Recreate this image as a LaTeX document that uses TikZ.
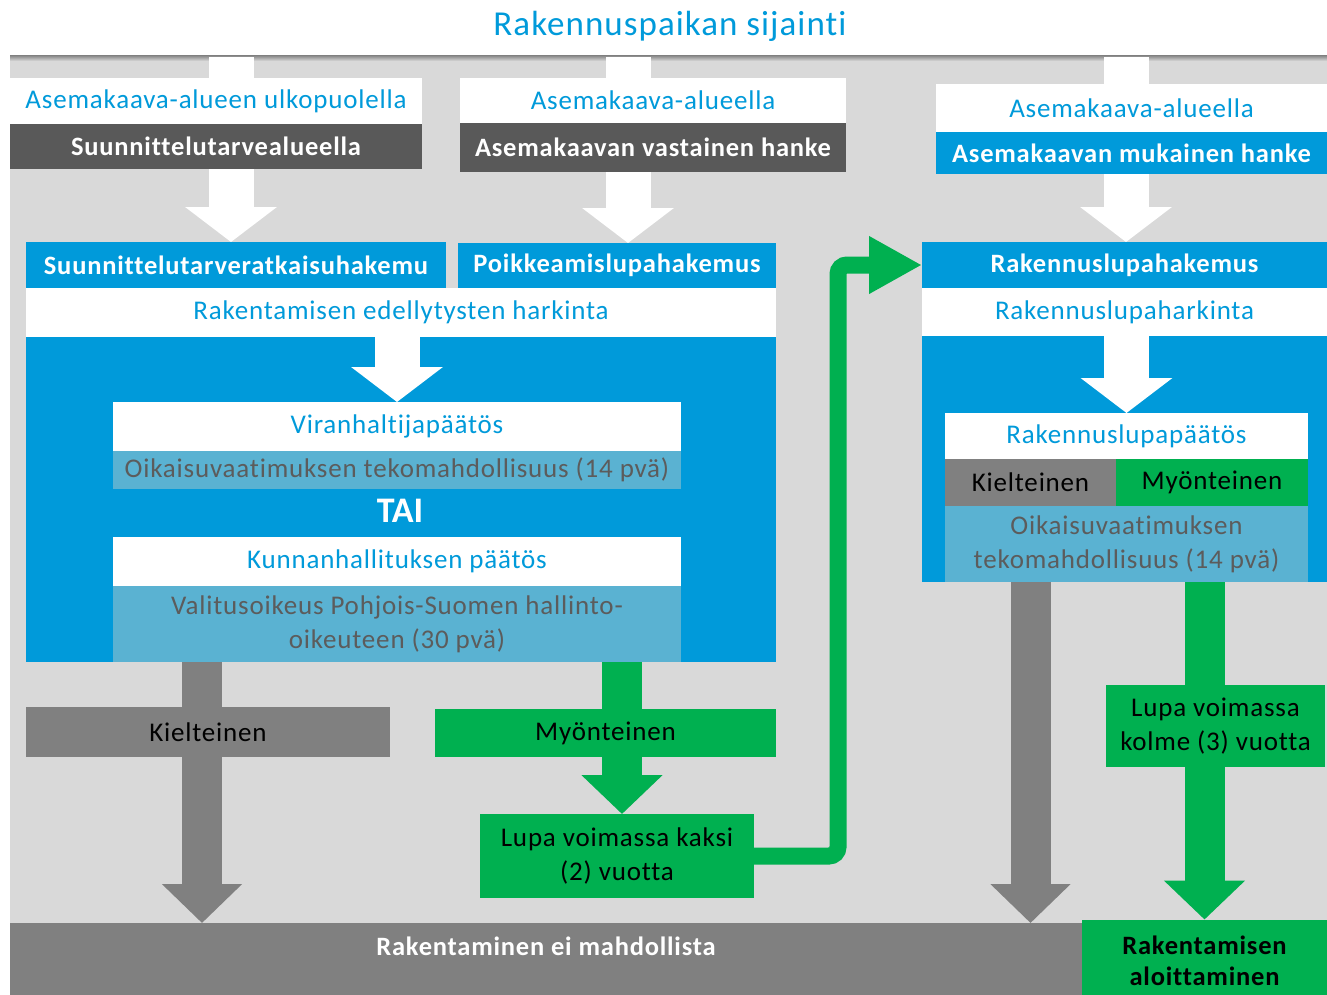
\documentclass[tikz,border=0pt]{standalone}
\usepackage{fontspec}
\setmainfont{Carlito}
\newfontfamily\rpreg[LetterSpace=3,Ligatures=NoCommon]{Carlito}
\newfontfamily\rpbold[LetterSpace=3,Ligatures=NoCommon]{Carlito}
\usetikzlibrary{arrows.meta}
\definecolor{rpblue}{HTML}{009ADA}
\definecolor{rplight}{HTML}{5AB2D2}
\definecolor{rpdark}{HTML}{595959}
\definecolor{rpgrey}{HTML}{808080}
\definecolor{rpgreen}{HTML}{00B050}
\definecolor{rpbg}{HTML}{D9D9D9}
\definecolor{rptext}{HTML}{5C5C5C}
\pgfdeclarelayer{back}
\pgfdeclarelayer{flow}
\pgfsetlayers{back,flow,main}
\tikzset{
  box/.style={rectangle, inner sep=0pt, outer sep=0pt, align=center},
  wbox/.style={box, fill=white, text=rpblue, font=\rpreg\fontsize{27}{33}\selectfont},
  dbox/.style={box, fill=rpdark, text=white, font=\rpbold\bfseries\fontsize{26.5}{32}\selectfont},
  bbox/.style={box, fill=rpblue, text=white, font=\rpbold\bfseries\fontsize{26.5}{32}\selectfont},
  lbox/.style={box, fill=rplight, text=rptext, font=\rpreg\fontsize{27}{34}\selectfont},
  gbox/.style={box, fill=rpgreen, text=black, font=\rpreg\fontsize{27}{34}\selectfont},
  kbox/.style={box, fill=rpgrey, text=black, font=\rpreg\fontsize{27}{33}\selectfont},
  warrow/.style={white, line width=45pt, -{Triangle[length=35pt,width=90pt]}},
  garrow/.style={rpgreen, line width=40pt, -{Triangle[length=39pt,width=79pt]}},
  karrow/.style={rpgrey, line width=40pt, -{Triangle[length=39pt,width=78pt]}},
}
\begin{document}
\begin{tikzpicture}[x=1pt,y=-1pt]
\useasboundingbox (0,0) rectangle (1327,994);
\clip (0,0) rectangle (1327,994);
\begin{pgfonlayer}{back}
  \fill[rpbg] (10,55) rectangle (1327,994);
  \shade[top color=gray, bottom color=rpbg] (10,55) rectangle (1327,61);
\end{pgfonlayer}

\node[text=rpblue, font=\rpreg\fontsize{35}{41}\selectfont] (title) at (670,26) {Rakennuspaikan sijainti};
\coordinate (in1) at (231,57);
\coordinate (in2) at (628,57);
\coordinate (in3) at (1126,57);

\node[wbox, minimum width=412pt, minimum height=46pt] (ulko) at (216,101) {Asemakaava-alueen ulkopuolella};
\node[dbox, minimum width=412pt, minimum height=45pt] (tarve) at (216,146.5) {Suunnittelutarvealueella};
\node[wbox, minimum width=386pt, minimum height=45pt] (alue1) at (653,100.5) {Asemakaava-alueella};
\node[dbox, minimum width=386pt, minimum height=49pt] (vastainen) at (653,147.5) {Asemakaavan vastainen hanke};
\node[wbox, minimum width=391pt, minimum height=48pt] (alue2) at (1131.5,108) {Asemakaava-alueella};
\node[bbox, minimum width=391pt, minimum height=42pt] (mukainen) at (1131.5,153) {Asemakaavan mukainen hanke};

\node[bbox, minimum width=420pt, minimum height=46pt] (ratk) at (236,265) {Suunnittelutarveratkaisuhakemu};
\node[bbox, minimum width=318pt, minimum height=45pt] (poik) at (617,265.5) {Poikkeamislupahakemus};
\node[wbox, minimum width=750pt, minimum height=49pt] (harkinta) at (401,312.5) {Rakentamisen edellytysten harkinta};
\node[wbox, minimum width=568pt, minimum height=49pt] (viran) at (397,426.5) {Viranhaltijapäätös};
\node[lbox, minimum width=568pt, minimum height=38pt] (oik1) at (397,470) {Oikaisuvaatimuksen tekomahdollisuus (14 pvä)};
\node[text=white, font=\bfseries\fontsize{36}{42}\selectfont] (tai) at (400,511) {TAI};
\node[wbox, minimum width=568pt, minimum height=49pt] (kunta) at (397,561.5) {Kunnanhallituksen päätös};
\node[lbox, minimum width=568pt, minimum height=76pt] (valitus) at (397,624) {Valitusoikeus Pohjois-Suomen hallinto-\\oikeuteen (30 pvä)};

\node[kbox, minimum width=364pt, minimum height=50pt] (kielto1) at (208,732) {Kielteinen};
\node[gbox, minimum width=341pt, minimum height=48pt] (myont1) at (605.5,733) {Myönteinen};
\node[gbox, minimum width=274pt, minimum height=84pt] (kaksi) at (617,856) {Lupa voimassa kaksi\\(2) vuotta};

\node[bbox, minimum width=405pt, minimum height=46pt] (rlhak) at (1124.5,265) {Rakennuslupahakemus};
\node[wbox, minimum width=405pt, minimum height=48pt] (rlhark) at (1124.5,312) {Rakennuslupaharkinta};
\node[wbox, minimum width=363pt, minimum height=46pt] (rlpaat) at (1126.5,436) {Rakennuslupapäätös};
\node[kbox, minimum width=171pt, minimum height=47pt] (kielto2) at (1030.5,482.5) {Kielteinen};
\node[gbox, minimum width=192pt, minimum height=47pt] (myont2) at (1212,482.5) {Myönteinen};
\node[lbox, minimum width=363pt, minimum height=76pt] (oik2) at (1126.5,544) {Oikaisuvaatimuksen\\tekomahdollisuus (14 pvä)};
\node[gbox, minimum width=219pt, minimum height=82pt] (kolme) at (1215.5,726) {Lupa voimassa\\kolme (3) vuotta};

\node[box, fill=rpgrey, text=white, font=\rpbold\bfseries\fontsize{26.5}{32}\selectfont, anchor=north,
  minimum width=1072pt, text height=32pt, text depth=60pt] (eimahd) at (546,923) {Rakentaminen ei mahdollista};
\node[gbox, font=\rpbold\bfseries\fontsize{26.5}{31}\selectfont, minimum width=245pt, minimum height=83pt] (aloitus) at (1204.5,961) {Rakentamisen\\aloittaminen};

\coordinate (kdrop) at (202,662);
\coordinate (gdrop) at (622,662);

\begin{pgfonlayer}{back}
  \fill[rpblue] (harkinta.south west) rectangle (harkinta.east |- valitus.south);
  \fill[rpblue] (rlhark.south west) rectangle (rlhark.east |- oik2.south);
\end{pgfonlayer}

\begin{pgfonlayer}{flow}
  \draw[warrow] (in1) -- (in1 |- ratk.north);
  \draw[warrow] (in2) -- (in2 |- poik.north);
  \draw[warrow] (in3) -- (in3 |- rlhak.north);
  \draw[warrow] (viran.north |- harkinta.south) -- (viran.north);
  \draw[warrow] (rlpaat.north |- rlhark.south) -- (rlpaat.north);
  \draw[karrow] (kdrop) -- (kdrop |- eimahd.north);
  \draw[garrow] (gdrop) -- (gdrop |- kaksi.north);
  \draw[karrow] (kielto2.center |- oik2.south) -- (kielto2.center |- eimahd.north);
  \draw[garrow] (aloitus.north |- oik2.south) -- (aloitus.north);
  \draw[rpgreen, line width=17pt, rounded corners=9pt, -{Triangle[length=53pt,width=54pt]}]
    (kaksi.east) -| ([xshift=-84pt]rlhak.west) -- (rlhak.west);
\end{pgfonlayer}
\end{tikzpicture}
\end{document}
